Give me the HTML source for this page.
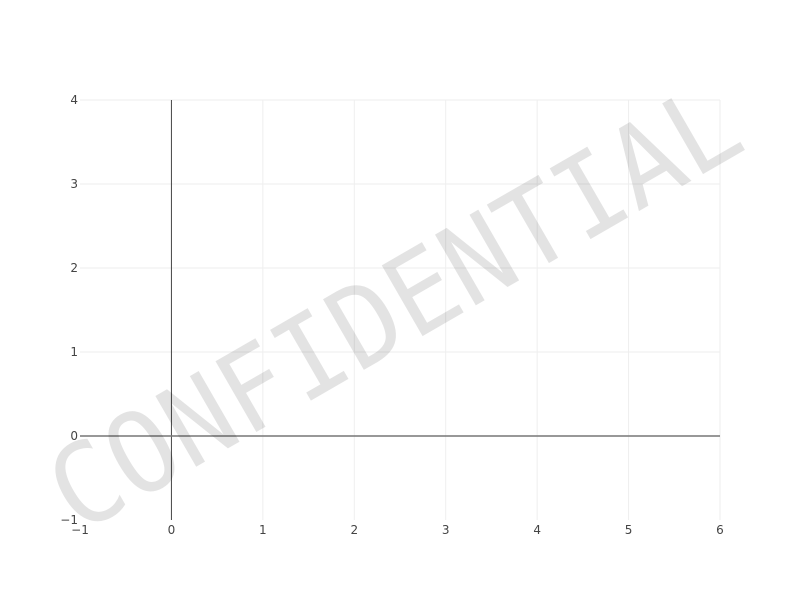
<!DOCTYPE html>
<html><head><meta charset="utf-8"><style>
body{margin:0;background:#fff;}
svg{display:block;font-family:"DejaVu Sans","Liberation Sans",sans-serif;}
</style></head><body>
<svg id="chart" width="800" height="600">
<g id="grid"></g>
<g id="zero"></g>
<g id="xt"></g>
<g id="yt"></g>
<text x="0" y="0" font-family="'DejaVu Sans Mono','Liberation Mono',monospace" font-size="112" textLength="775" lengthAdjust="spacingAndGlyphs" fill="#000" fill-opacity="0.11" text-anchor="start" transform="translate(78,535) rotate(-30)">CONFIDENTIAL</text>
</svg>
<script>
const xTicks=[-1,0,1,2,3,4,5,6];
const yTicks=[-1,0,1,2,3,4];
const xRange=[-1,6], yRange=[-1,4];
const L=80,R=720,T=100,B=520;
const sx=v=>L+(v-xRange[0])/(xRange[1]-xRange[0])*(R-L);
const sy=v=>B-(v-yRange[0])/(yRange[1]-yRange[0])*(B-T);
const NS="http://www.w3.org/2000/svg";
function mk(p,tag,a){const e=document.createElementNS(NS,tag);for(const k in a)e.setAttribute(k,a[k]);p.appendChild(e);return e;}
const g=document.getElementById('grid'),z=document.getElementById('zero'),xt=document.getElementById('xt'),yt=document.getElementById('yt');
xTicks.forEach(v=>{
 if(v!==0&&v!==xRange[0]){const l=mk(g,'line',{x1:sx(v),x2:sx(v),y1:T,y2:B,stroke:'#eee','stroke-width':1});
 
 }
 const t=mk(xt,'text',{x:sx(v),y:B+14,'font-size':12,fill:'#444','text-anchor':'middle'});
 
 
 t.textContent=v<0?'\u2212'+(-v):String(v);
});
yTicks.forEach(v=>{
 if(v!==0&&v!==yRange[0]){const l=mk(g,'line',{x1:L,x2:R,y1:sy(v),y2:sy(v),stroke:'#eee','stroke-width':1});
 
 }
 const t=mk(yt,'text',{x:L-2,y:sy(v)+4,'font-size':12,fill:'#444','text-anchor':'end'});
 
 
 t.textContent=v<0?'\u2212'+(-v):String(v);
});
const zx=mk(z,'line',{x1:sx(0),x2:sx(0),y1:T,y2:B,stroke:'#444','stroke-width':1});


const zy=mk(z,'line',{x1:L,x2:R,y1:sy(0),y2:sy(0),stroke:'#777','stroke-width':1.5});


</script>
</body></html>
